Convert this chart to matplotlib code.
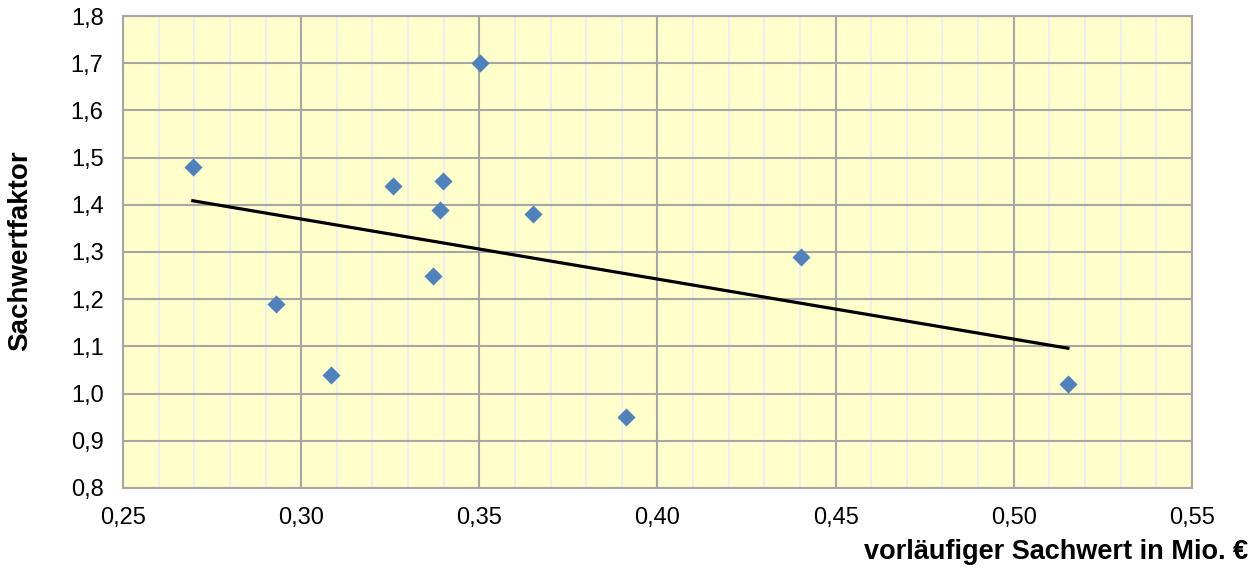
import numpy as np
import matplotlib.pyplot as plt
from matplotlib.ticker import MultipleLocator, FuncFormatter

plt.rcParams['font.family'] = ['Liberation Sans', 'DejaVu Sans']

# vorläufiger Sachwert (Mio. €) und Sachwertfaktor
sachwert = [0.2696, 0.2929, 0.3084, 0.3258, 0.3370, 0.3390, 0.3398,
            0.3502, 0.3652, 0.3912, 0.4403, 0.5152]
faktor = [1.48, 1.19, 1.04, 1.44, 1.25, 1.39, 1.45,
          1.70, 1.38, 0.95, 1.29, 1.02]

x = np.array(sachwert)
y = np.array(faktor)

fig = plt.figure(figsize=(12.59, 5.74), dpi=100)
ax = fig.add_axes([0.0977, 0.150, 0.849, 0.822])
ax.set_facecolor('#FFFFCC')

# grid
ax.xaxis.set_minor_locator(MultipleLocator(0.01))
ax.grid(which='minor', axis='x', color='#EEEEEE', lw=1.5, zorder=0)
ax.grid(which='major', axis='both', color='#A6A6A6', lw=1.5, zorder=1)
ax.set_axisbelow(True)

ax.scatter(x, y, marker='D', s=85, color='#4F81BD', zorder=3, linewidths=0)

# lineare Trendlinie
m, b = np.polyfit(x, y, 1)
xt = np.array([x.min(), x.max()])
ax.plot(xt, m * xt + b, color='black', lw=2.3, zorder=2)

ax.set_xlim(0.25, 0.55)
ax.set_ylim(0.8, 1.8)
ax.xaxis.set_major_locator(MultipleLocator(0.05))
ax.yaxis.set_major_locator(MultipleLocator(0.1))
ax.xaxis.set_major_formatter(FuncFormatter(lambda v, p: f'{v:.2f}'.replace('.', ',')))
ax.yaxis.set_major_formatter(FuncFormatter(lambda v, p: f'{v:.1f}'.replace('.', ',')))
ax.tick_params(which='both', length=0, labelsize=17, pad=14)

for s in ax.spines.values():
    s.set_color('#A6A6A6')
    s.set_linewidth(1.5)

fig.text(0.9915, 0.015, 'vorläufiger Sachwert in Mio. €', ha='right', va='bottom',
         fontsize=19.5, fontweight='bold')
fig.text(0.016, 0.5627, 'Sachwertfaktor', ha='center', va='center', rotation=90,
         fontsize=20, fontweight='bold')

fig.savefig('out.png', dpi=100)
